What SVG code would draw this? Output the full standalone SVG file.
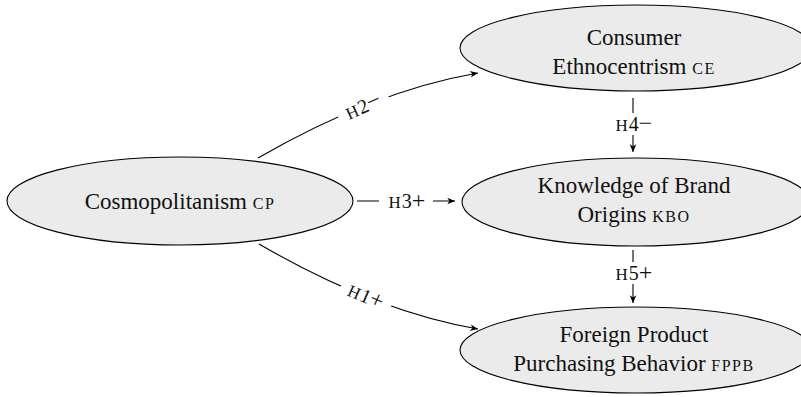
<svg xmlns="http://www.w3.org/2000/svg" width="801" height="397" viewBox="0 0 801 397">
<style>
.node ellipse{fill:#ebebeb;stroke:#000;stroke-width:1.1}
.t{font-family:"Liberation Serif","Times New Roman",serif;font-size:23px;fill:#111;text-anchor:middle}
.sc{font-size:16px;letter-spacing:1.5px}
.edge{fill:none;stroke:#000;stroke-width:1.1}
.lbl{font-family:"Liberation Serif","Times New Roman",serif;font-size:20px;fill:#111;text-anchor:middle}
.h{font-size:17px;letter-spacing:1px}
.s{font-size:24px}
.bg{fill:#fff}
</style>
<defs>
<marker id="arr" markerUnits="userSpaceOnUse" markerWidth="10" markerHeight="10" viewBox="-8 -4 9 8" refX="0" refY="0" orient="auto">
<path d="M0,0 L-7,-3 L-5,0 L-7,3 Z" fill="#000"/>
</marker>
</defs>
<g id="connectors">
<path class="edge" d="M258,158 Q374,91 478,73" marker-end="url(#arr)"/>
<path class="edge" d="M259,244 Q374,311 478,329" marker-end="url(#arr)"/>
<path class="edge" d="M357,201 L455,201" marker-end="url(#arr)"/>
<path class="edge" d="M633,98 L633,152" marker-end="url(#arr)"/>
<path class="edge" d="M633,250 L633,303" marker-end="url(#arr)"/>
<g transform="translate(363,106) rotate(-24)">
<rect class="bg" x="-27" y="-11" width="54" height="22"/>
<text class="lbl" x="0" y="7"><tspan class="h">H</tspan>2<tspan class="s">−</tspan></text>
</g>
<g transform="translate(366,296) rotate(24)">
<rect class="bg" x="-27" y="-11" width="54" height="22"/>
<text class="lbl" x="0" y="7"><tspan class="h">H</tspan>1<tspan class="s">+</tspan></text>
</g>
<rect class="bg" x="379" y="189" width="54" height="24"/>
<text class="lbl" x="407" y="208"><tspan class="h">H</tspan>3<tspan class="s">+</tspan></text>
<rect class="bg" x="609" y="113" width="50" height="22"/>
<text class="lbl" x="634" y="131"><tspan class="h">H</tspan>4<tspan class="s">−</tspan></text>
<rect class="bg" x="609" y="262" width="50" height="22"/>
<text class="lbl" x="634" y="280"><tspan class="h">H</tspan>5<tspan class="s">+</tspan></text>
</g>
<g id="cp" class="node">
<ellipse cx="180" cy="201" rx="173" ry="44"/>
<text class="t" x="180" y="209">Cosmopolitanism <tspan class="sc">CP</tspan></text>
</g>
<g id="ce" class="node">
<ellipse cx="636" cy="48" rx="176" ry="43"/>
<text class="t" x="634" y="45">Consumer</text>
<text class="t" x="634" y="74">Ethnocentrism <tspan class="sc">CE</tspan></text>
</g>
<g id="kbo" class="node">
<ellipse cx="636" cy="202" rx="174" ry="44"/>
<text class="t" x="634" y="193">Knowledge of Brand</text>
<text class="t" x="634" y="222">Origins <tspan class="sc">KBO</tspan></text>
</g>
<g id="fppb" class="node">
<ellipse cx="636" cy="350" rx="176" ry="43"/>
<text class="t" x="634" y="342">Foreign Product</text>
<text class="t" x="634" y="371">Purchasing Behavior <tspan class="sc">FPPB</tspan></text>
</g>
</svg>
